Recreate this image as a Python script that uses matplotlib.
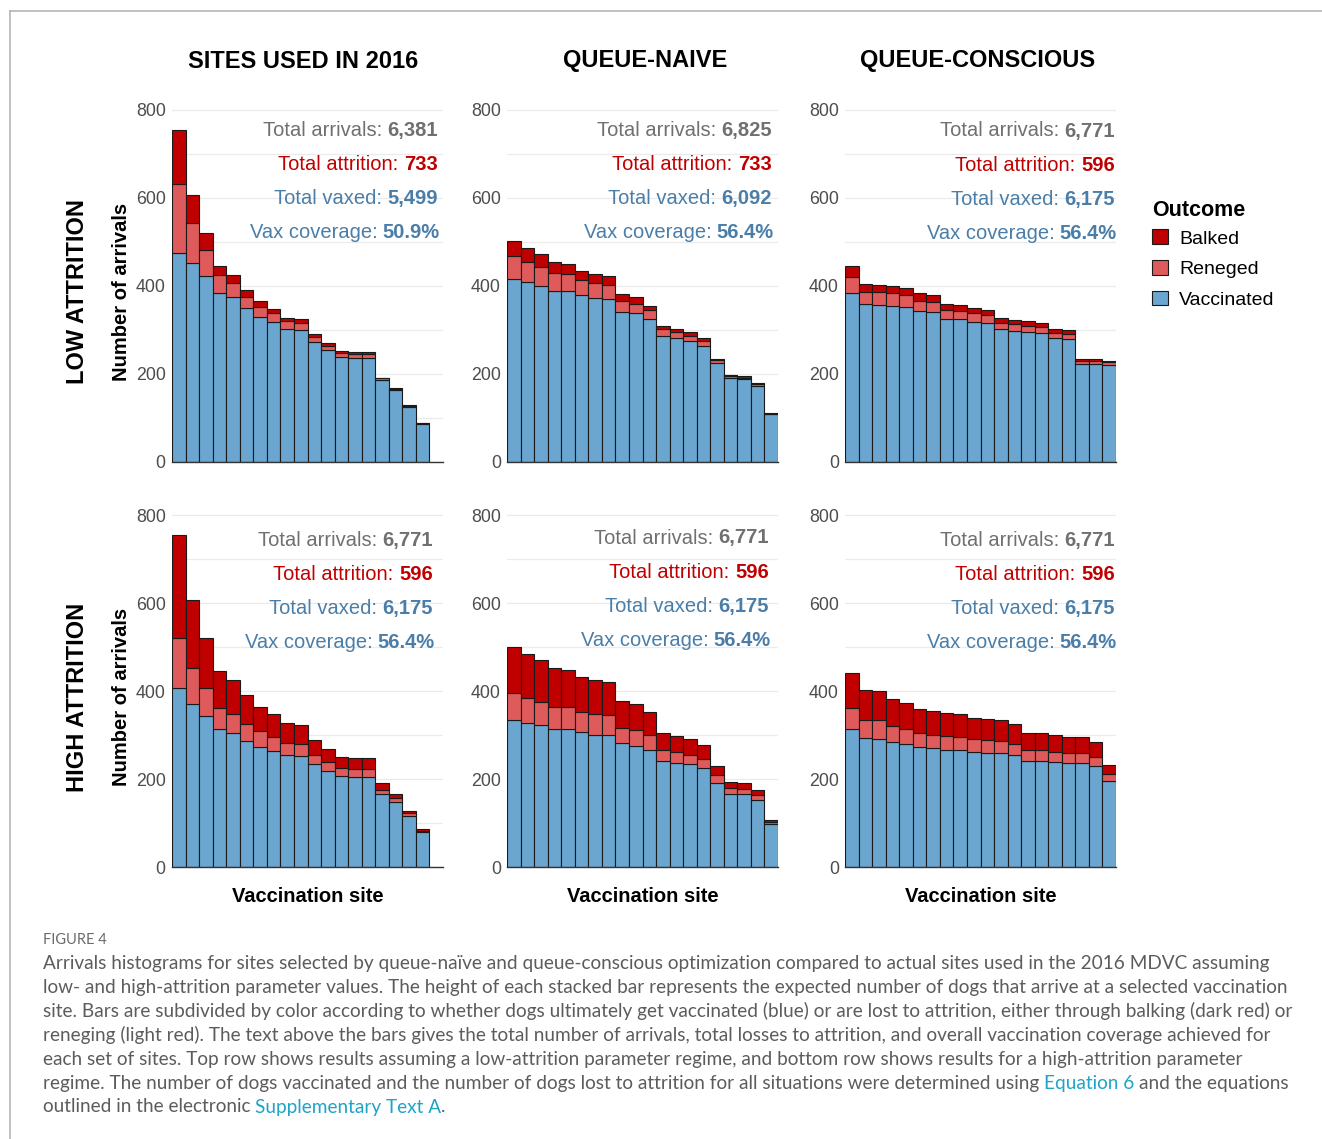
import matplotlib
matplotlib.use("Agg")
import matplotlib.pyplot as plt
from matplotlib.patches import Patch
from matplotlib.lines import Line2D
from matplotlib.ticker import MultipleLocator
import numpy as np

# ---------------- data ----------------
col_titles = ["SITES USED IN 2016", "QUEUE-NAIVE", "QUEUE-CONSCIOUS"]
row_titles = ["LOW ATTRITION", "HIGH ATTRITION"]
outcomes = ["Balked", "Reneged", "Vaccinated"]

# Sites used in 2016 - low attrition
s16_low_vax = [474, 453, 423, 385, 374, 349, 330, 319, 302, 299, 272, 255, 239, 237, 237, 186, 164, 126, 87]
s16_low_ren = [157, 91, 59, 40, 32, 25, 23, 19, 18, 16, 11, 9, 8, 8, 8, 4, 3, 2, 1]
s16_low_balk = [123, 63, 38, 21, 20, 16, 12, 10, 8, 9, 7, 7, 6, 6, 6, 2, 2, 2, 1]
# Sites used in 2016 - high attrition
s16_high_vax = [406, 370, 343, 313, 304, 287, 273, 264, 255, 252, 233, 219, 207, 205, 205, 165, 148, 116, 80]
s16_high_ren = [115, 83, 63, 49, 44, 38, 36, 32, 26, 28, 22, 20, 17, 17, 17, 11, 8, 6, 2]
s16_high_balk = [233, 154, 114, 84, 78, 65, 55, 52, 46, 43, 34, 30, 27, 25, 25, 16, 11, 6, 4]
# Queue-naive - low attrition
qn_low_vax = [416, 408, 400, 389, 388, 379, 373, 370, 342, 338, 324, 287, 282, 276, 264, 224, 191, 188, 173, 109]
qn_low_ren = [53, 47, 44, 40, 39, 34, 33, 33, 25, 22, 21, 15, 13, 11, 11, 7, 4, 4, 4, 1]
qn_low_balk = [34, 31, 28, 25, 24, 22, 21, 20, 14, 14, 10, 8, 7, 8, 7, 4, 3, 3, 2, 1]
# Queue-naive - high attrition
qn_high_vax = [334, 328, 323, 314, 313, 306, 301, 301, 281, 276, 267, 241, 237, 233, 224, 192, 167, 165, 153, 98]
qn_high_ren = [61, 57, 53, 50, 50, 47, 46, 44, 36, 36, 33, 24, 24, 22, 21, 17, 12, 12, 11, 4]
qn_high_balk = [106, 99, 94, 88, 85, 79, 77, 75, 60, 58, 52, 40, 37, 36, 33, 21, 15, 13, 11, 5]
# Queue-conscious - low attrition
qc_low_vax = [385, 358, 357, 355, 353, 344, 340, 326, 324, 319, 316, 302, 298, 295, 293, 281, 280, 223, 222, 220]
qc_low_ren = [36, 29, 29, 28, 26, 23, 24, 19, 20, 19, 18, 15, 15, 15, 14, 13, 12, 7, 8, 7]
qc_low_balk = [24, 17, 16, 17, 16, 16, 15, 13, 12, 12, 11, 11, 10, 10, 10, 8, 9, 4, 3, 3]
# Queue-conscious - high attrition
qc_high_vax = [313, 294, 292, 283, 279, 272, 270, 267, 266, 261, 260, 258, 254, 242, 240, 239, 236, 236, 230, 195]
qc_high_ren = [48, 40, 41, 37, 35, 32, 31, 31, 30, 29, 29, 29, 26, 24, 25, 23, 22, 22, 21, 16]
qc_high_balk = [81, 68, 67, 62, 58, 54, 54, 51, 52, 49, 47, 46, 45, 39, 39, 38, 37, 37, 34, 21]

# summary text per panel: arrivals, attrition, vaxed, coverage
tot_arrivals = [["6,381", "6,825", "6,771"], ["6,771", "6,771", "6,771"]]
tot_attrition = [["733", "733", "596"], ["596", "596", "596"]]
tot_vaxed = [["5,499", "6,092", "6,175"], ["6,175", "6,175", "6,175"]]
vax_coverage = [["50.9%", "56.4%", "56.4%"], ["56.4%", "56.4%", "56.4%"]]

n_slots = 20
y_ticks = [0, 200, 400, 600, 800]

panels = [
    [(s16_low_vax, s16_low_ren, s16_low_balk), (qn_low_vax, qn_low_ren, qn_low_balk), (qc_low_vax, qc_low_ren, qc_low_balk)],
    [(s16_high_vax, s16_high_ren, s16_high_balk), (qn_high_vax, qn_high_ren, qn_high_balk), (qc_high_vax, qc_high_ren, qc_high_balk)],
]

# ---------------- style ----------------
C_BALK = "#c00000"
C_REN = "#df5a5a"
C_VAX = "#6aa6cf"
C_GREY_TXT = "#707070"
C_RED_TXT = "#c00000"
C_BLUE_TXT = "#4a7ea8"
FONT = ["Liberation Sans", "DejaVu Sans"]
CAP_FONT = ["Lato", "DejaVu Sans"]
plt.rcParams["font.family"] = FONT

W, H = 1322, 1139
fig = plt.figure(figsize=(W / 100, H / 100), dpi=100)
fig.patch.set_facecolor("white")


def fx(x):
    return x / W


def fy(y):
    return 1 - y / H


col_left = [172, 507, 845]
col_w = 271
row_bottom = [462, 867]
ymax = 820
px_per_unit = 0.44
row_h = ymax * px_per_unit

ann_right = [[438, 772, 1115], [433, 769, 1115]]
ann_top = [[129, 129, 130], [539, 537, 539]]
ann_step = 34.2

axes = []
for r in range(2):
    for c in range(3):
        ax = fig.add_axes([fx(col_left[c]), fy(row_bottom[r]), col_w / W, row_h / H])
        axes.append(ax)
        vax, ren, balk = (np.array(v, dtype=float) for v in panels[r][c])
        x = np.arange(1, len(vax) + 1)
        kw = dict(width=1.0, edgecolor="#1a1a1a", linewidth=0.8, zorder=3)
        ax.bar(x, vax, color=C_VAX, **kw)
        ax.bar(x, ren, bottom=vax, color=C_REN, **kw)
        ax.bar(x, balk, bottom=vax + ren, color=C_BALK, **kw)
        ax.set_xlim(0.5, n_slots + 0.5)
        ax.set_ylim(0, ymax)
        ax.set_yticks(y_ticks)
        ax.yaxis.set_minor_locator(MultipleLocator(100))
        ax.set_yticklabels([str(t) for t in y_ticks])
        ax.set_xticks([])
        ax.tick_params(axis="y", which="both", length=0, pad=4.5, labelsize=12.8, labelcolor="#4d4d4d")
        ax.grid(axis="y", which="both", color="#ebebeb", linewidth=0.9, zorder=0)
        ax.set_axisbelow(True)
        for s in ["left", "right", "top"]:
            ax.spines[s].set_visible(False)
        ax.spines["bottom"].set_color("#333333")
        ax.spines["bottom"].set_linewidth(1.0)
        ax.spines["bottom"].set_zorder(4)
        ax.set_facecolor("none")

        # summary annotations
        lines = [
            ("Total arrivals:", tot_arrivals[r][c], C_GREY_TXT),
            ("Total attrition:", tot_attrition[r][c], C_RED_TXT),
            ("Total vaxed:", tot_vaxed[r][c], C_BLUE_TXT),
            ("Vax coverage:", vax_coverage[r][c], C_BLUE_TXT),
        ]
        for i, (lab, num, col) in enumerate(lines):
            xr = ann_right[r][c] + (2 if i == 3 else 0)
            t = fig.text(fx(xr), fy(ann_top[r][c] + 1 + i * ann_step), num, ha="right", va="center",
                         fontsize=14.5, fontweight="bold", color=col)
            ax.annotate(lab, xy=(0, 0), xycoords=t, xytext=(-4, 0), textcoords="offset points",
                        ha="right", va="bottom", fontsize=14.5, color=col, annotation_clip=False)

# column titles
title_centers = [303, 645, 978]
for c, title in enumerate(col_titles):
    fig.text(fx(title_centers[c]), fy(61), title, ha="center", va="center",
             fontsize=17, fontweight="bold", color="black")

# row titles and y labels
row_centers = [292, 697]
for r, title in enumerate(row_titles):
    fig.text(fx(77), fy(row_centers[r]), title, rotation=90, ha="center", va="center",
             fontsize=17, fontweight="bold", color="black")
    fig.text(fx(121), fy(row_centers[r]), "Number of arrivals", rotation=90, ha="center", va="center",
             fontsize=14.5, fontweight="bold", color="black")

# x labels
for c in range(3):
    fig.text(fx(col_left[c] + col_w / 2), fy(897), "Vaccination site", ha="center", va="center",
             fontsize=14.5, fontweight="bold", color="black")

# legend
handles = [Patch(facecolor=col, edgecolor="#1a1a1a", linewidth=0.8)
           for col in [C_BALK, C_REN, C_VAX]]
leg = fig.legend(handles, outcomes, title="Outcome", loc="upper left",
                 bbox_to_anchor=(fx(1152), fy(200)), frameon=False, fontsize=14,
                 title_fontproperties={"weight": "bold", "size": 15.5, "family": FONT},
                 handlelength=0.8, handleheight=0.8, handletextpad=0.6, labelspacing=0.64,
                 borderpad=0, borderaxespad=0, alignment="left")
leg._legend_box.sep = 6

# frame lines
fig.add_artist(Line2D([fx(10), 1], [fy(11), fy(11)], color="#b5b5b5", linewidth=1.2))
fig.add_artist(Line2D([fx(10), fx(10)], [fy(11), 0], color="#b5b5b5", linewidth=1.2))

# caption
CAP_COL = "#5c5c5c"
LINK_COL = "#1fa3c6"
cap_fs = 13.7
fig.text(fx(43), fy(940), "FIGURE 4", ha="left", va="center", fontsize=10.5, color="#6a6a6a",
         family=CAP_FONT)
cap_lines = [
    "Arrivals histograms for sites selected by queue-na\u00efve and queue-conscious optimization compared to actual sites used in the 2016 MDVC assuming",
    "low- and high-attrition parameter values. The height of each stacked bar represents the expected number of dogs that arrive at a selected vaccination",
    "site. Bars are subdivided by color according to whether dogs ultimately get vaccinated (blue) or are lost to attrition, either through balking (dark red) or",
    "reneging (light red). The text above the bars gives the total number of arrivals, total losses to attrition, and overall vaccination coverage achieved for",
    "each set of sites. Top row shows results assuming a low-attrition parameter regime, and bottom row shows results for a high-attrition parameter",
]
for i, line in enumerate(cap_lines):
    fig.text(fx(43), fy(963 + 24 * i), line, ha="left", va="center", fontsize=cap_fs, color=CAP_COL,
             family=CAP_FONT)


def chain(parts, y):
    prev = None
    for j, (txt, col) in enumerate(parts):
        if prev is None:
            prev = fig.text(fx(43), fy(y), txt, ha="left", va="center", fontsize=cap_fs, color=col,
                            family=CAP_FONT)
        else:
            gap = 0 if txt.startswith(".") else 3.3
            prev = axes[0].annotate(txt, xy=(1, 0), xycoords=prev, xytext=(gap, 0),
                                    textcoords="offset points", ha="left", va="bottom",
                                    fontsize=cap_fs, color=col, family=CAP_FONT,
                                    annotation_clip=False)


chain([("regime. The number of dogs vaccinated and the number of dogs lost to attrition for all situations were determined using", CAP_COL),
       ("Equation 6", LINK_COL), ("and the equations", CAP_COL)], 963 + 24 * 5)
chain([("outlined in the electronic", CAP_COL), ("Supplementary Text A", LINK_COL), (".", CAP_COL)], 963 + 24 * 6)

fig.savefig("out.png", dpi=100, facecolor="white")
